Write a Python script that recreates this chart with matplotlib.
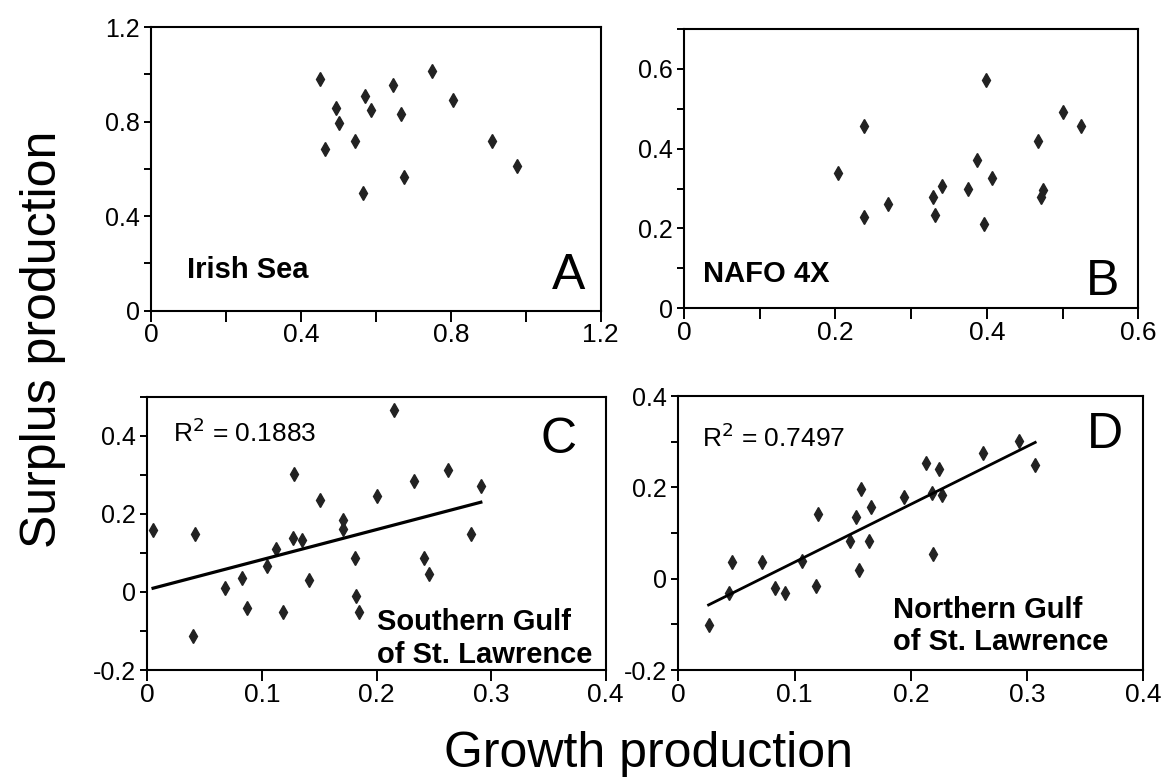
import numpy as np
import matplotlib
matplotlib.use('Agg')
import matplotlib.pyplot as plt
from matplotlib.ticker import MultipleLocator, FuncFormatter

plt.rcParams['font.family'] = ['Liberation Sans', 'DejaVu Sans']

# ---- data ----
irish_x = [0.452, 0.465, 0.494, 0.503, 0.545, 0.570, 0.567, 0.588, 0.645,
           0.667, 0.676, 0.749, 0.805, 0.909, 0.976]
irish_y = [0.980, 0.683, 0.857, 0.795, 0.718, 0.910, 0.500, 0.850, 0.954,
           0.831, 0.567, 1.015, 0.892, 0.718, 0.614]

nafo_x = [0.203, 0.238, 0.238, 0.270, 0.329, 0.331, 0.341, 0.375, 0.387,
          0.399, 0.396, 0.407, 0.467, 0.474, 0.472, 0.501, 0.525]
nafo_y = [0.338, 0.458, 0.228, 0.262, 0.278, 0.233, 0.306, 0.299, 0.371,
          0.573, 0.212, 0.327, 0.419, 0.296, 0.278, 0.491, 0.458]

south_x = [0.005, 0.042, 0.128, 0.151, 0.171, 0.171, 0.127, 0.135, 0.112,
           0.104, 0.083, 0.068, 0.141, 0.181, 0.200, 0.215, 0.233, 0.262,
           0.291, 0.282, 0.241, 0.246, 0.087, 0.118, 0.182, 0.185, 0.040]
south_y = [0.158, 0.149, 0.301, 0.235, 0.185, 0.162, 0.138, 0.132, 0.109,
           0.066, 0.036, 0.010, 0.031, 0.086, 0.245, 0.465, 0.285, 0.312,
           0.271, 0.149, 0.086, 0.047, -0.041, -0.052, -0.010, -0.052, -0.113]

north_x = [0.293, 0.307, 0.262, 0.213, 0.224, 0.218, 0.227, 0.194, 0.157,
           0.166, 0.153, 0.120, 0.148, 0.164, 0.219, 0.106, 0.072, 0.046,
           0.155, 0.083, 0.092, 0.118, 0.044, 0.026]
north_y = [0.302, 0.250, 0.276, 0.254, 0.241, 0.188, 0.183, 0.180, 0.197,
           0.158, 0.136, 0.141, 0.083, 0.083, 0.053, 0.039, 0.036, 0.036,
           0.018, -0.021, -0.031, -0.017, -0.031, -0.101]

south_r2 = 0.1883
north_r2 = 0.7497

fmt = FuncFormatter(lambda v, p: '%g' % round(v, 3))
mk = dict(marker='d', color='#222222', markersize=7, linestyle='none', clip_on=False)
letter_kw = dict(fontsize=36, ha='right', va='baseline')
# va='baseline' on a two-line label pins the last line's baseline
name_kw = dict(fontsize=21, fontweight='bold', ha='left', va='baseline', linespacing=1.2)


def style(ax, xlim, ylim, xmaj, xmin, ymaj, ymin):
    ax.set_xlim(*xlim)
    ax.set_ylim(*ylim)
    ax.xaxis.set_major_locator(MultipleLocator(xmaj))
    ax.xaxis.set_minor_locator(MultipleLocator(xmin))
    ax.yaxis.set_major_locator(MultipleLocator(ymaj))
    ax.yaxis.set_minor_locator(MultipleLocator(ymin))
    ax.xaxis.set_major_formatter(fmt)
    ax.yaxis.set_major_formatter(fmt)
    for s in ax.spines.values():
        s.set_linewidth(1.5)
    ax.tick_params(axis='x', which='both', direction='out', length=8, width=1.4, pad=1,
                   labelsize=19)
    ax.tick_params(axis='y', which='both', direction='out', length=5, width=1.4, pad=3,
                   labelsize=18)


fig = plt.figure(figsize=(11.73, 7.81), dpi=100)
axA = fig.add_axes([0.1287, 0.6022, 0.3834, 0.3629])
axB = fig.add_axes([0.5831, 0.6053, 0.3873, 0.3576])
axC = fig.add_axes([0.1256, 0.1421, 0.3908, 0.3499])
axD = fig.add_axes([0.5783, 0.1421, 0.3964, 0.3508])

# A: Irish Sea
axA.plot(irish_x, irish_y, **mk)
style(axA, (0, 1.2), (0, 1.2), 0.4, 0.2, 0.4, 0.2)
axA.text(0.08, 0.115, 'Irish Sea', transform=axA.transAxes, **name_kw)
axA.text(0.965, 0.075, 'A', transform=axA.transAxes, **letter_kw)

# B: NAFO 4X
axB.plot(nafo_x, nafo_y, **mk)
style(axB, (0, 0.6), (0, 0.7), 0.2, 0.1, 0.2, 0.1)
axB.text(0.042, 0.095, 'NAFO 4X', transform=axB.transAxes, **name_kw)
axB.text(0.958, 0.048, 'B', transform=axB.transAxes, **letter_kw)

# C: Southern Gulf, with linear fit
axC.plot(south_x, south_y, **mk)
k, b = np.polyfit(south_x, south_y, 1)
xx = np.array([min(south_x), max(south_x)])
axC.plot(xx, k * xx + b, color='black', lw=2.3)
style(axC, (0, 0.4), (-0.2, 0.5), 0.1, 0.1, 0.2, 0.1)
axC.text(0.057, 0.835, r'R$^2$ = %.4f' % south_r2, transform=axC.transAxes,
         fontsize=19, va='baseline')
axC.text(0.937, 0.793, 'C', transform=axC.transAxes, **letter_kw)
axC.text(0.500, 0.027, 'Southern Gulf\nof St. Lawrence', transform=axC.transAxes, **name_kw)

# D: Northern Gulf, with linear fit
axD.plot(north_x, north_y, **mk)
k, b = np.polyfit(north_x, north_y, 1)
xx = np.array([min(north_x), max(north_x)])
axD.plot(xx, k * xx + b, color='black', lw=2.0)
style(axD, (0, 0.4), (-0.2, 0.4), 0.1, 0.1, 0.2, 0.1)
axD.text(0.050, 0.813, r'R$^2$ = %.4f' % north_r2, transform=axD.transAxes,
         fontsize=19, va='baseline')
axD.text(0.956, 0.809, 'D', transform=axD.transAxes, **letter_kw)
axD.text(0.461, 0.073, 'Northern Gulf\nof St. Lawrence', transform=axD.transAxes, **name_kw)

fig.text(0.553, 0.018, 'Growth production', fontsize=36, ha='center', va='baseline')
fig.text(0.037, 0.565, 'Surplus production', fontsize=36, rotation=90,
         ha='center', va='center')

fig.savefig('out.png', dpi=100, facecolor='white')
